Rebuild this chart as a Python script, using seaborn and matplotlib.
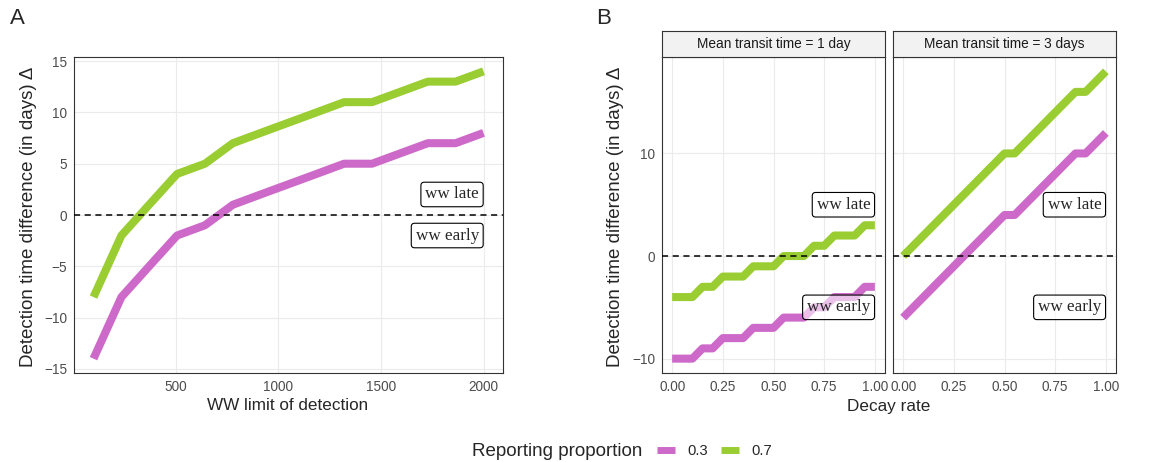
import numpy as np
import pandas as pd
import matplotlib
matplotlib.use("Agg")
import matplotlib.pyplot as plt
import seaborn as sns
from matplotlib.lines import Line2D

# ---------------- data ----------------
rep_levels = ["0.3", "0.7"]
rep_colors = ["#CD69C9", "#9ACD32"]

lod = [100, 236, 371, 507, 643, 779, 914, 1050, 1186, 1321, 1457, 1593, 1729, 1864, 2000]
a_low = [-14, -8, -5, -2, -1, 1, 2, 3, 4, 5, 5, 6, 7, 7, 8]
a_high = [-8, -2, 1, 4, 5, 7, 8, 9, 10, 11, 11, 12, 13, 13, 14]

decay = [0.00, 0.05, 0.10, 0.15, 0.20, 0.25, 0.30, 0.35, 0.40, 0.45, 0.50,
         0.55, 0.60, 0.65, 0.70, 0.75, 0.80, 0.85, 0.90, 0.95, 1.00]
b1_low = [-10, -10, -10, -9, -9, -8, -8, -8, -7, -7, -7, -6, -6, -6, -5, -5, -4, -4, -4, -3, -3]
b1_high = [-4, -4, -4, -3, -3, -2, -2, -2, -1, -1, -1, 0, 0, 0, 1, 1, 2, 2, 2, 3, 3]
b3_low = [-6, -5, -4, -3, -2, -1, 0, 1, 2, 3, 4, 4, 5, 6, 7, 8, 9, 10, 10, 11, 12]
b3_high = [0, 1, 2, 3, 4, 5, 6, 7, 8, 9, 10, 10, 11, 12, 13, 14, 15, 16, 16, 17, 18]

facet_titles = ["Mean transit time = 1 day", "Mean transit time = 3 days"]
ylab = "Detection time difference (in days) \u0394"

dfA = pd.DataFrame({"x": lod * 2, "y": a_low + a_high,
                    "rp": [rep_levels[0]] * len(lod) + [rep_levels[1]] * len(lod)})
dfB1 = pd.DataFrame({"x": decay * 2, "y": b1_low + b1_high,
                     "rp": [rep_levels[0]] * len(decay) + [rep_levels[1]] * len(decay)})
dfB3 = pd.DataFrame({"x": decay * 2, "y": b3_low + b3_high,
                     "rp": [rep_levels[0]] * len(decay) + [rep_levels[1]] * len(decay)})

# ---------------- style ----------------
sns.set_theme(style="white")
plt.rcParams["font.family"] = ["Liberation Sans", "DejaVu Sans"]
palette = dict(zip(rep_levels, rep_colors))

W, H = 1167, 462
fig = plt.figure(figsize=(W / 100, H / 100), dpi=100)
fig.patch.set_facecolor("white")


def rect(l, t, r, b):
    return [l / W, 1 - b / H, (r - l) / W, (b - t) / H]


def style(ax):
    ax.set_facecolor("white")
    ax.grid(True, color="#EBEBEB", linewidth=0.8)
    ax.set_axisbelow(True)
    for s in ax.spines.values():
        s.set_color("#333333")
        s.set_linewidth(0.8)
    ax.tick_params(length=0, pad=5, labelsize=9.8, labelcolor="#4D4D4D")
    ax.set_xlabel("")
    ax.set_ylabel("")


def draw_lines(ax, df):
    sns.lineplot(data=df, x="x", y="y", hue="rp", hue_order=rep_levels,
                 palette=palette, estimator=None, sort=False, linewidth=5.8,
                 legend=False, ax=ax, solid_capstyle="butt", solid_joinstyle="round")
    ax.axhline(0, color="black", linestyle=(0, (4, 3)), linewidth=1.1, zorder=3)


def add_label(ax, x, y, txt):
    ax.annotate(txt, xy=(x, y), xytext=(-3.3, 0), textcoords="offset points",
                ha="right", va="center", family=["Liberation Serif", "DejaVu Serif"],
                fontsize=12.3, zorder=5,
                bbox=dict(boxstyle="round,pad=0.25,rounding_size=0.2",
                          fc=(1, 1, 1, 0.6), ec="black", lw=0.8))


# ---------------- panel A ----------------
axA = fig.add_axes(rect(74, 57, 503, 373))
draw_lines(axA, dfA)
axA.set_xlim(5, 2095)
axA.set_ylim(-15.4, 15.4)
axA.set_xticks([500, 1000, 1500, 2000])
axA.set_yticks([-15, -10, -5, 0, 5, 10, 15])
axA.set_yticklabels(["\u221215", "\u221210", "\u22125", "0", "5", "10", "15"])
style(axA)
add_label(axA, 2000, 2, "ww late")
add_label(axA, 2000, -2, "ww early")

# ---------------- panel B ----------------
axB1 = fig.add_axes(rect(662, 57, 885, 373))
axB3 = fig.add_axes(rect(893, 57, 1116, 373))
for ax, df, title, (l, r) in [(axB1, dfB1, facet_titles[0], (662, 885)),
                              (axB3, dfB3, facet_titles[1], (893, 1116))]:
    draw_lines(ax, df)
    ax.set_xlim(-0.05, 1.05)
    ax.set_ylim(-11.4, 19.4)
    ax.set_xticks([0, 0.25, 0.5, 0.75, 1.0])
    ax.set_xticklabels(["0.00", "0.25", "0.50", "0.75", "1.00"])
    ax.set_yticks([-10, 0, 10])
    style(ax)
    add_label(ax, 1.0, 5, "ww late")
    add_label(ax, 1.0, -5, "ww early")
    sax = fig.add_axes(rect(l, 31, r, 57))
    sax.set_facecolor("#F2F2F2")
    sax.set_xticks([])
    sax.set_yticks([])
    for s in sax.spines.values():
        s.set_color("#333333")
        s.set_linewidth(0.8)
    sax.text(0.5, 0.5, title, ha="center", va="center", fontsize=9.8,
             color="#1A1A1A", transform=sax.transAxes)
axB1.set_yticklabels(["\u221210", "0", "10"])
axB3.set_yticklabels([])

# ---------------- texts ----------------
fig.text(29 / W, 1 - 217 / H, ylab, rotation=90, ha="center", va="center", fontsize=13.5)
fig.text(615 / W, 1 - 217 / H, ylab, rotation=90, ha="center", va="center", fontsize=13.5)
fig.text(288 / W, 1 - 406 / H, "WW limit of detection", ha="center", va="center", fontsize=12.3)
fig.text(889 / W, 1 - 406 / H, "Decay rate", ha="center", va="center", fontsize=12.3)
fig.text(10 / W, 1 - 19 / H, "A", ha="left", va="center", fontsize=16)
fig.text(596 / W, 1 - 19 / H, "B", ha="left", va="center", fontsize=16)

# ---------------- legend ----------------
fig.text(472 / W, 1 - 451 / H, "Reporting proportion", ha="left", va="center", fontsize=13.5)
handles = [Line2D([], [], color=c, lw=5, solid_capstyle="butt") for c in rep_colors]
fig.legend(handles=handles, labels=rep_levels, ncol=2, loc="center left",
           bbox_to_anchor=(657 / W, 1 - 451 / H), frameon=False, fontsize=10.6,
           handlelength=1.25, handletextpad=0.8, columnspacing=0.9,
           borderaxespad=0, borderpad=0)

fig.savefig("out.png", dpi=100, facecolor="white")
